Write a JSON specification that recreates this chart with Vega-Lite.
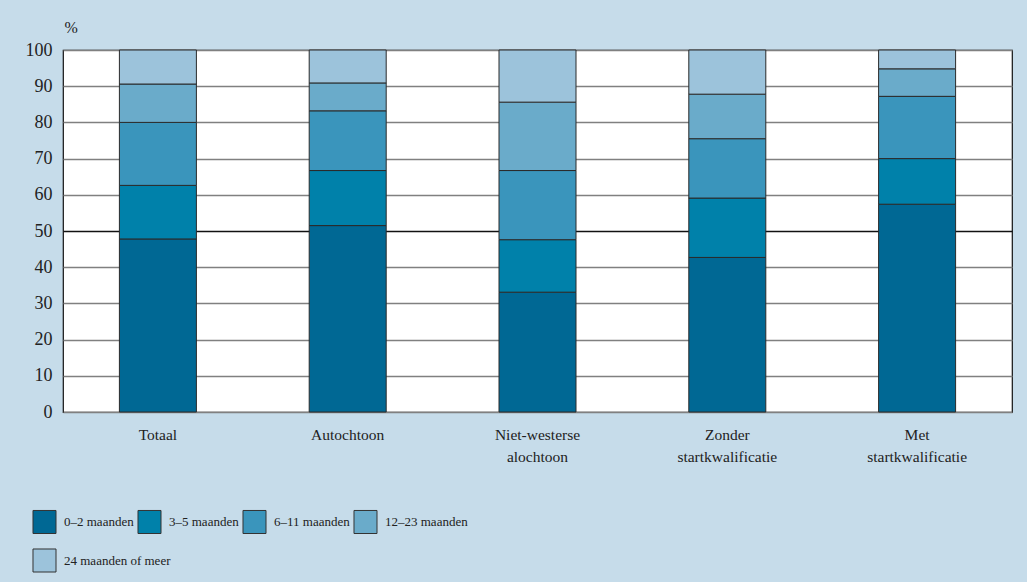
{
  "$schema": "https://vega.github.io/schema/vega-lite/v6.json",
  "width": 949,
  "height": 362,
  "autosize": {"type": "none"},
  "padding": {"left": 63, "top": 50, "right": 15, "bottom": 170},
  "background": "#c6dcea",
  "config": {
    "font": "Liberation Serif",
    "view": {"stroke": "#111111", "strokeWidth": 1.2, "fill": "white"}
  },
  "data": {
    "values": [
      {"groep": "Totaal", "duur": "0–2 maanden", "k": 1, "pct": 47.8},
      {"groep": "Totaal", "duur": "3–5 maanden", "k": 2, "pct": 14.8},
      {"groep": "Totaal", "duur": "6–11 maanden", "k": 3, "pct": 17.4},
      {"groep": "Totaal", "duur": "12–23 maanden", "k": 4, "pct": 10.6},
      {"groep": "Totaal", "duur": "24 maanden of meer", "k": 5, "pct": 9.4},
      {"groep": "Autochtoon", "duur": "0–2 maanden", "k": 1, "pct": 51.5},
      {"groep": "Autochtoon", "duur": "3–5 maanden", "k": 2, "pct": 15.2},
      {"groep": "Autochtoon", "duur": "6–11 maanden", "k": 3, "pct": 16.5},
      {"groep": "Autochtoon", "duur": "12–23 maanden", "k": 4, "pct": 7.7},
      {"groep": "Autochtoon", "duur": "24 maanden of meer", "k": 5, "pct": 9.1},
      {"groep": "Niet-westerse|alochtoon", "duur": "0–2 maanden", "k": 1, "pct": 33.1},
      {"groep": "Niet-westerse|alochtoon", "duur": "3–5 maanden", "k": 2, "pct": 14.5},
      {"groep": "Niet-westerse|alochtoon", "duur": "6–11 maanden", "k": 3, "pct": 19.1},
      {"groep": "Niet-westerse|alochtoon", "duur": "12–23 maanden", "k": 4, "pct": 18.9},
      {"groep": "Niet-westerse|alochtoon", "duur": "24 maanden of meer", "k": 5, "pct": 14.4},
      {"groep": "Zonder|startkwalificatie", "duur": "0–2 maanden", "k": 1, "pct": 42.7},
      {"groep": "Zonder|startkwalificatie", "duur": "3–5 maanden", "k": 2, "pct": 16.4},
      {"groep": "Zonder|startkwalificatie", "duur": "6–11 maanden", "k": 3, "pct": 16.4},
      {"groep": "Zonder|startkwalificatie", "duur": "12–23 maanden", "k": 4, "pct": 12.3},
      {"groep": "Zonder|startkwalificatie", "duur": "24 maanden of meer", "k": 5, "pct": 12.2},
      {"groep": "Met|startkwalificatie", "duur": "0–2 maanden", "k": 1, "pct": 57.4},
      {"groep": "Met|startkwalificatie", "duur": "3–5 maanden", "k": 2, "pct": 12.6},
      {"groep": "Met|startkwalificatie", "duur": "6–11 maanden", "k": 3, "pct": 17.2},
      {"groep": "Met|startkwalificatie", "duur": "12–23 maanden", "k": 4, "pct": 7.6},
      {"groep": "Met|startkwalificatie", "duur": "24 maanden of meer", "k": 5, "pct": 5.2}
    ]
  },
  "encoding": {
    "x": {
      "field": "groep",
      "type": "nominal",
      "sort": null,
      "scale": {"paddingInner": 0, "paddingOuter": 0},
      "axis": {
        "title": null,
        "labelAngle": 0,
        "ticks": false,
        "domain": false,
        "labelExpr": "split(datum.label, '|')",
        "labelFontSize": 15.5,
        "labelColor": "#222222",
        "labelPadding": 15,
        "labelLineHeight": 22,
        "labelBaseline": "top"
      }
    },
    "y": {
      "field": "pct",
      "type": "quantitative",
      "stack": "zero",
      "scale": {"domain": [0, 100], "nice": false},
      "axis": {
        "values": [0, 10, 20, 30, 40, 50, 60, 70, 80, 90, 100],
        "labelOverlap": false,
        "title": "%",
        "titleAngle": 0,
        "titleAlign": "left",
        "titleBaseline": "alphabetic",
        "titleX": 1,
        "titleY": -18,
        "titleFontSize": 16,
        "titleFontWeight": "normal",
        "titleColor": "#222222",
        "ticks": false,
        "domain": false,
        "labelFontSize": 18,
        "labelColor": "#222222",
        "labelPadding": 11,
        "grid": true,
        "gridColor": {"condition": {"test": "datum.value === 50", "value": "#111111"}, "value": "#808080"},
        "gridWidth": 1.4,
        "gridOpacity": 1
      }
    },
    "order": {"field": "k", "type": "quantitative"}
  },
  "layer": [
    {
      "mark": {"type": "bar", "width": 77, "stroke": "#2a2a2a", "strokeWidth": 1},
      "encoding": {
        "color": {
          "field": "duur",
          "type": "nominal",
          "scale": {
            "domain": ["0–2 maanden", "3–5 maanden", "6–11 maanden", "12–23 maanden", "24 maanden of meer"],
            "range": ["#006894", "#0081aa", "#3a95bc", "#6aabca", "#9cc3db"]
          },
          "legend": {
            "title": null,
            "orient": "none",
            "legendX": -31,
            "legendY": 459,
            "direction": "horizontal",
            "values": ["0–2 maanden", "3–5 maanden", "6–11 maanden", "12–23 maanden"],
            "symbolType": "square",
            "symbolSize": 530,
            "symbolStrokeColor": "#333333",
            "symbolStrokeWidth": 1,
            "symbolOpacity": 1,
            "labelFontSize": 13,
            "labelColor": "#222222",
            "labelOffset": 7,
            "columnPadding": 1,
            "labelLimit": 300
          }
        }
      }
    },
    {
      "mark": {"type": "bar", "width": 77, "opacity": 0},
      "encoding": {
        "fill": {
          "field": "duur",
          "type": "nominal",
          "scale": {
            "domain": ["24 maanden of meer"],
            "range": ["#9cc3db"]
          },
          "legend": {
            "title": null,
            "orient": "none",
            "legendX": -31,
            "legendY": 498,
            "direction": "horizontal",
            "values": ["24 maanden of meer"],
            "symbolType": "square",
            "symbolSize": 530,
            "symbolStrokeColor": "#333333",
            "symbolStrokeWidth": 1,
            "symbolOpacity": 1,
            "labelFontSize": 13,
            "labelColor": "#222222",
            "labelOffset": 7,
            "labelLimit": 300
          }
        }
      }
    }
  ]
}
